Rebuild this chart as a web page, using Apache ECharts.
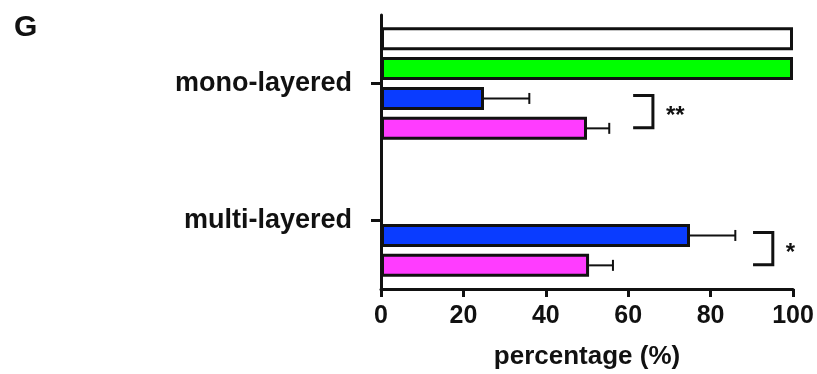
<!DOCTYPE html>
<html>
<head>
<meta charset="utf-8">
<script src="https://cdn.jsdelivr.net/npm/echarts@6/dist/echarts.min.js"></script>
<style>
  html, body { margin: 0; padding: 0; background: #ffffff; }
  #chart { width: 817px; height: 374px; }
</style>
</head>
<body>
<div id="chart"></div>
<script>
// Categories (top to bottom) and x-axis ticks
const categories = ['mono-layered', 'multi-layered'];
const xTicks = [0, 20, 40, 60, 80, 100];

// Percentages per group; null where a group has no bar
const whiteVals = [100, null];
const greenVals = [100, null];
const blueVals  = [25, 75];
const blueErr   = [11, 11];
const pinkVals  = [50, 50.5];
const pinkErr   = [5.4, 5.8];

// Significance brackets between the blue and pink bars of each group
const sigCats   = [0, 1];
const sigStart  = [61.2, 90.3];
const sigEnd    = [66, 95.1];
const sigLabels = ['**', '*'];

const FONT = '"Liberation Sans", Arial, Helvetica, sans-serif';
const BAR_W = 23;
const GAP_RATIO = 0.3;
const N_SERIES = 4;

// pixel offset of series i's bar centre from its category centre
function barOffset(i) {
  const gap = BAR_W * GAP_RATIO;
  const total = N_SERIES * BAR_W + (N_SERIES - 1) * gap;
  return -total / 2 + i * (BAR_W + gap) + BAR_W / 2;
}

function barSeries(name, vals, color) {
  return {
    name: name,
    type: 'bar',
    data: vals.map(v => (v === null ? '-' : v)),
    barWidth: BAR_W,
    barGap: (GAP_RATIO * 100) + '%',
    itemStyle: { color: color, borderColor: '#111', borderWidth: 3 },
    emphasis: { disabled: true },
    z: 2
  };
}

function errorSeries(vals, errs, idx) {
  return {
    type: 'custom',
    data: vals.map((v, c) => [c, v, errs[c]]),
    encode: { x: 1, y: 0 },
    clip: false,
    z: 3,
    silent: true,
    renderItem: function (params, api) {
      const cat = api.value(0), v = api.value(1), e = api.value(2);
      const p0 = api.coord([v, cat]);
      const p1 = api.coord([v + e, cat]);
      const y = p0[1] + barOffset(idx);
      return {
        type: 'group',
        children: [
          { type: 'line', shape: { x1: p0[0], y1: y, x2: p1[0], y2: y },
            style: { stroke: '#111', lineWidth: 2 } },
          { type: 'line', shape: { x1: p1[0], y1: y - 5.5, x2: p1[0], y2: y + 5.5 },
            style: { stroke: '#111', lineWidth: 2 } }
        ]
      };
    }
  };
}

const sigSeries = {
  type: 'custom',
  data: sigCats.map((c, i) => [c, sigStart[i], sigEnd[i]]),
  encode: { x: [1, 2], y: 0 },
  clip: false,
  z: 3,
  silent: true,
  renderItem: function (params, api) {
    const cat = api.value(0);
    const a = api.coord([api.value(1), cat]);
    const b = api.coord([api.value(2), cat]);
    const yTop = a[1] + barOffset(2) - 3;
    const yBot = a[1] + barOffset(3) - 0.5;
    return {
      type: 'group',
      children: [
        { type: 'polyline',
          shape: { points: [[a[0], yTop], [b[0], yTop], [b[0], yBot], [a[0], yBot]] },
          style: { stroke: '#111', lineWidth: 3, fill: null } },
        { type: 'text',
          style: { text: sigLabels[params.dataIndex], x: b[0] + 13, y: (yTop + yBot) / 2 + 5,
                   fill: '#111', font: 'bold 24px ' + FONT,
                   align: 'left', verticalAlign: 'middle' } }
      ]
    };
  }
};

const chart = echarts.init(document.getElementById('chart'), null, { renderer: 'canvas' });
chart.setOption({
  animation: false,
  backgroundColor: '#ffffff',
  title: {
    text: 'G', left: 9, top: 8,
    textStyle: { fontFamily: FONT, fontWeight: 'bold', fontSize: 30, color: '#111' }
  },
  grid: { left: 381, right: 24, top: 15, bottom: 85, containLabel: false, outerBoundsMode: 'none' },
  xAxis: {
    type: 'value', min: xTicks[0], max: xTicks[xTicks.length - 1], interval: xTicks[1] - xTicks[0],
    name: 'percentage (%)', nameLocation: 'middle', nameGap: 55,
    nameTextStyle: { fontFamily: FONT, fontWeight: 'bold', fontSize: 26, color: '#111' },
    axisLine: { show: true, lineStyle: { color: '#111', width: 3 } },
    axisTick: { show: true, length: 8, lineStyle: { color: '#111', width: 3 } },
    axisLabel: { margin: 15, fontFamily: FONT, fontWeight: 'bold', fontSize: 25, color: '#111' },
    splitLine: { show: false }
  },
  yAxis: {
    type: 'category', data: categories, inverse: true,
    axisLine: { show: true, lineStyle: { color: '#111', width: 3 } },
    axisTick: { show: true, alignWithLabel: true, length: 10, lineStyle: { color: '#111', width: 3 } },
    axisLabel: { margin: 29, fontFamily: FONT, fontWeight: 'bold', fontSize: 27, color: '#111' }
  },
  series: [
    barSeries('control', whiteVals, '#ffffff'),
    barSeries('green', greenVals, '#00ff00'),
    barSeries('blue', blueVals, '#0a3cff'),
    barSeries('pink', pinkVals, '#ff3cff'),
    errorSeries(blueVals, blueErr, 2),
    errorSeries(pinkVals, pinkErr, 3),
    sigSeries
  ]
});
</script>
</body>
</html>
